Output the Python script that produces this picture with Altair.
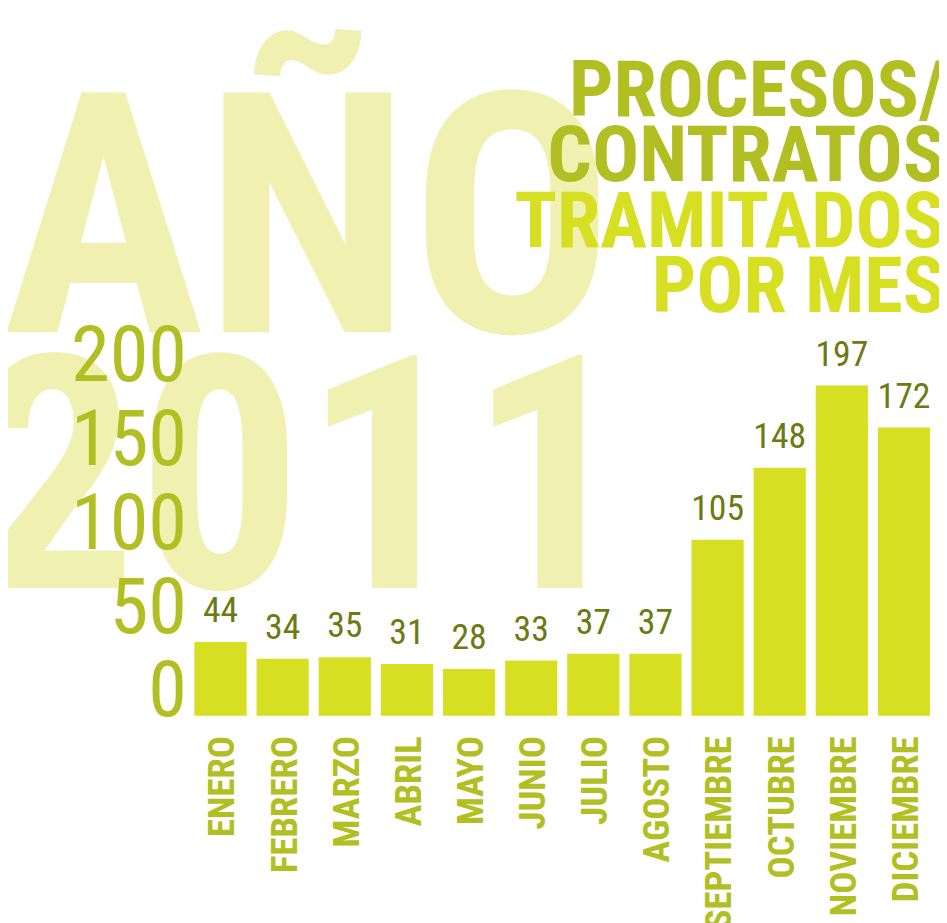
import altair as alt
import pandas as pd

months = ["ENERO", "FEBRERO", "MARZO", "ABRIL", "MAYO", "JUNIO", "JULIO",
          "AGOSTO", "SEPTIEMBRE", "OCTUBRE", "NOVIEMBRE", "DICIEMBRE"]
values = [44, 34, 35, 31, 28, 33, 37, 37, 105, 148, 197, 172]
y_ticks = [0, 50, 100, 150, 200]
bg_word = "AÑO"
bg_year = "2011"
title_dark = ["PROCESOS/", "CONTRATOS"]
title_light = ["TRAMITADOS", "POR MES"]

FONT = "Roboto Condensed, Open Sans Condensed, sans-serif"
BAR = "#d6df21"
OLIVE = "#b1bf23"
DARK = "#6b7a12"
PALE = "#f0f0b0"

df = pd.DataFrame({"mes": months, "valor": values})

W, H = 752, 372

def deco(txt, x, y, size, color, align="center", weight="bold", line_height=None):
    kw = dict(font=FONT, fontSize=size, fontWeight=weight, color=color,
              align=align, baseline="alphabetic")
    if line_height:
        kw["lineHeight"] = line_height
    return alt.Chart(pd.DataFrame({"t": [0]})).mark_text(text=txt, **kw).encode(
        x=alt.value(x), y=alt.value(y))

bg1 = deco(bg_word, 120, -15, 340, PALE)
bg2 = deco(bg_year, 114, 243, 330, PALE)
t1 = deco(title_dark, 762, -233, 79, OLIVE, align="right", line_height=66)
t2 = deco(title_light, 762, -101, 79, BAR, align="right", line_height=66)

xenc = alt.X("mes:N", sort=months, scale=alt.Scale(paddingInner=0.16, paddingOuter=0.08),
             axis=alt.Axis(title=None, labelAngle=270, labelFont=FONT, labelFontSize=37,
                           labelFontWeight="bold", labelColor=OLIVE, labelPadding=20,
                           labelOffset=3, ticks=False, domain=False, labelOverlap=False,
                           labelLimit=400, zindex=1))
yenc = alt.Y("valor:Q", scale=alt.Scale(domain=[0, 220], nice=False),
             axis=alt.Axis(title=None, values=y_ticks, labelFont=FONT, labelFontSize=79,
                           labelColor=OLIVE, labelBaseline="alphabetic", labelPadding=3,
                           ticks=False, domain=False, grid=False, labelOverlap=False,
                           labelFlush=False, zindex=1))

bars = alt.Chart(df).mark_bar(color=BAR).encode(x=xenc, y=yenc)
labels = alt.Chart(df).mark_text(font=FONT, fontSize=36, color=DARK, baseline="alphabetic",
                                 dy=-20).encode(x=alt.X("mes:N", sort=months), y="valor:Q",
                                                text="valor:Q")

chart = alt.layer(bg1, bg2, t1, t2, bars, labels).properties(
    width=W, height=H,
    autosize=alt.AutoSizeParams(type="none"),
    padding={"left": 183, "top": 338, "right": 4, "bottom": 205},
).configure_view(stroke=None)

chart.save("out.html", embed_options={"renderer": "svg", "actions": False})
